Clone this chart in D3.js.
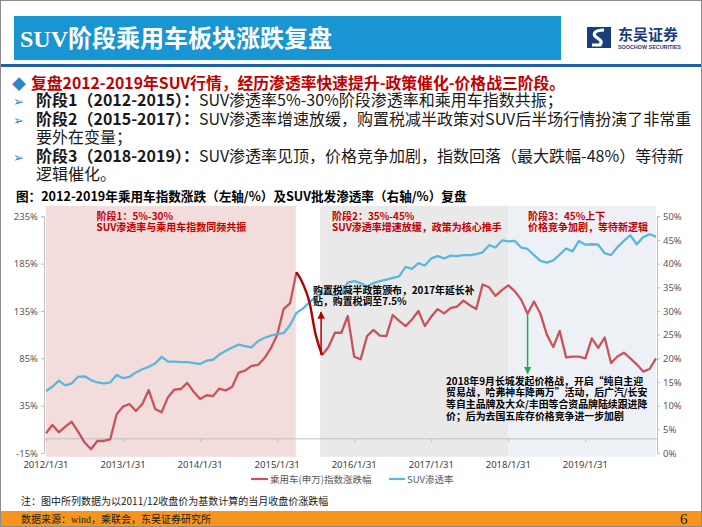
<!DOCTYPE html>
<html lang="zh">
<head>
  <meta charset="utf-8">
  <title>SUV阶段乘用车板块涨跌复盘</title>
  <script src="https://cdn.jsdelivr.net/npm/d3@7"></script>
  <style>
    html, body { margin: 0; padding: 0; background: #fff; }
    svg { display: block; }
    text { font-family: "Noto Sans CJK SC", "Noto Sans", sans-serif; }
  </style>
</head>
<body>
<script>
  // 乘用车(申万)指数涨跌幅, monthly 2012/1 - 2019/12 (left axis, %)
  var idxChange = [
    5.8, 14.6, 6.8, 12.8, 18, 7.5, -3.7, -11, -2.3, -2.3, -0.5, 26,
    34, 36.7, 29.4, 36.7, 51.5, 31.5, 28, 44, 52, 52.6, 59, 49.7,
    42, 46, 45, 53, 51, 55, 70, 72, 77, 78, 85, 95.5,
    109.6, 137, 143, 176, 164, 145, 110, 88.5, 97, 112, 112, 129.7,
    86.7, 84, 108.5, 115, 109, 108.5, 130.7, 124.5, 119, 126, 135, 119,
    129, 137, 132.5, 138, 139.5, 146, 141, 137, 163, 160, 151, 157,
    162, 156, 147, 132, 145, 132, 110, 97, 114, 86, 86.7, 86.7,
    85, 106, 96, 107, 80, 87, 91, 85, 78.7, 71, 73.7, 85
  ];
  // SUV渗透率 (right axis, %)
  var suvRate = [
    13.1, 14.0, 15.3, 14.3, 14.7, 16.1, 16.2, 15.4, 14.9, 14.7, 14.9, 16.5,
    15.8, 16.1, 17.0, 17.7, 18.2, 18.9, 20.3, 19.3, 19.3, 19.2, 19.2, 19.0,
    18.8, 19.5, 19.7, 20.8, 21.6, 22.3, 22.9, 22.6, 22.3, 23.6, 24.3, 24.8,
    25.1, 25.3, 27.0, 29.6, 30.5, 31.8, 33.0, 33.7, 33.7, 33.3, 33.8, 36.0,
    36.3, 35.9, 35.1, 35.9, 36.3, 36.6, 37.0, 37.3, 39.3, 38.9, 40.1, 39.6,
    41.1, 41.6, 41.1, 41.7, 41.6, 41.8, 41.8, 42.0, 42.4, 43.9, 43.4, 44.9,
    44.7, 44.8, 43.4, 43.1, 41.8, 40.6, 40.2, 40.7, 41.9, 43.2, 42.6, 44.8,
    44.0, 44.1, 44.0, 42.2, 41.8, 43.5, 44.8, 46.0, 44.1, 45.6, 46.2, 45.7
  ];
  var xTickLabels = ["2012/1/31", "2013/1/31", "2014/1/31", "2015/1/31",
                     "2016/1/31", "2017/1/31", "2018/1/31", "2019/1/31"];
  var leftTicks = [-15, 35, 85, 135, 185, 235];
  var rightTicks = [0, 5, 10, 15, 20, 25, 30, 35, 40, 45, 50];
  // stage bands, in month index (0 = 2012/1)
  var stageStart = [0, 42.7, 72];
  var stageEnd = [38.9, 72, 95];
  var stageTitle = ["阶段1：5%-30%", "阶段2：35%-45%", "阶段3：45%上下"];
  var stageNote = ["SUV渗透率与乘用车指数同频共振", "SUV渗透率增速放缓，政策为核心推手", "价格竞争加剧，等待新逻辑"];
  var crashFrom = 39, crashTo = 43;   // highlighted fall after 2015 peak

  var W = 702, H = 527;
  var svg = d3.select("body").append("svg").attr("width", W).attr("height", H);

  // ---- slide frame, header ----
  svg.append("rect").attr("x", 0.5).attr("y", 0.5).attr("width", W - 1).attr("height", H - 1)
    .attr("fill", "#fff").attr("stroke", "#8c8c8c");
  svg.append("rect").attr("x", 14).attr("y", 16).attr("width", 547).attr("height", 44).attr("fill", "#1895d3");
  svg.append("text").attr("x", 20).attr("y", 47).attr("fill", "#fff")
    .style("font-family", "'Liberation Serif', 'Noto Sans CJK SC'")
    .style("font-size", "24px").style("font-weight", "bold")
    .text("SUV阶段乘用车板块涨跌复盘");
  svg.append("rect").attr("x", 1).attr("y", 64).attr("width", W - 2).attr("height", 3).attr("fill", "#1f5fa6");

  // logo
  var logo = svg.append("g").attr("transform", "translate(587,27)");
  logo.append("rect").attr("width", 24).attr("height", 21).attr("fill", "#1a3d7c");
  logo.append("path").attr("d", "M17,3 C8,3 5,7 9,10 C13,13 16,14 13,18 L5,18")
    .attr("fill", "none").attr("stroke", "#fff").attr("stroke-width", 3.2);
  logo.append("text").attr("x", 31).attr("y", 13).attr("fill", "#1a3d7c")
    .style("font-size", "15px").style("font-weight", "bold").text("东吴证券");
  logo.append("text").attr("x", 31).attr("y", 22).attr("fill", "#1a3d7c")
    .style("font-size", "5.4px").style("font-weight", "bold").style("font-family", "'Liberation Sans'")
    .text("SOOCHOW SECURITIES");

  // ---- bullet text ----
  var tb = svg.append("g").style("font-size", "16px");
  tb.append("text").attr("x", 12).attr("y", 89).attr("fill", "#2e86c8").style("font-size", "14px").text("◆");
  tb.append("text").attr("x", 31).attr("y", 89).attr("fill", "#c00000").style("font-weight", "bold")
    .style("font-size", "15.8px")
    .text("复盘2012-2019年SUV行情，经历渗透率快速提升-政策催化-价格战三阶段。");
  var lines = [
    {y: 106, bullet: true, b: "阶段1（2012-2015）：", t: "SUV渗透率5%-30%阶段渗透率和乘用车指数共振；"},
    {y: 124.5, bullet: true, b: "阶段2（2015-2017）：", t: "SUV渗透率增速放缓，购置税减半政策对SUV后半场行情扮演了非常重"},
    {y: 143, bullet: false, b: "", t: "要外在变量；"},
    {y: 161.5, bullet: true, b: "阶段3（2018-2019）：", t: "SUV渗透率见顶，价格竞争加剧，指数回落（最大跌幅-48%）等待新"},
    {y: 180, bullet: false, b: "", t: "逻辑催化。"}
  ];
  lines.forEach(function(l) {
    if (l.bullet) {
      tb.append("text").attr("x", 13).attr("y", l.y).attr("fill", "#2e86c8")
        .style("font-size", "13px").text("➢");
    }
    var t = tb.append("text").attr("x", 36).attr("y", l.y).attr("fill", "#1a1a1a");
    if (l.b) t.append("tspan").style("font-weight", "bold").text(l.b);
    t.append("tspan").text(l.t);
  });

  // chart title
  svg.append("text").attr("x", 16).attr("y", 201).attr("fill", "#000")
    .style("font-size", "12.6px").style("font-weight", "bold")
    .text("图：2012-2019年乘用车指数涨跌（左轴/%）及SUV批发渗透率（右轴/%）复盘");

  // ---- chart ----
  var x = d3.scaleLinear().domain([0, idxChange.length - 1]).range([46, 656]);
  var yL = d3.scaleLinear().domain([-15, 235]).range([453, 216.3]);
  var yR = d3.scaleLinear().domain([0, 50]).range([453, 216.3]);

  var bandFill = ["#f2dcdc", "#e9e9e9", "#edf1f6"];
  svg.append("g").selectAll("rect").data(stageStart).join("rect")
    .attr("x", function(d) { return x(d); })
    .attr("width", function(d, i) { return x(stageEnd[i]) - x(d); })
    .attr("y", yL(246)).attr("height", yL(-19) - yL(246))
    .attr("fill", function(d, i) { return bandFill[i]; });

  // axes
  var axisColor = "#bfbfbf", tickColor = "#595959";
  var gL = svg.append("g").attr("transform", "translate(44,0)")
    .call(d3.axisLeft(yL).tickValues(leftTicks).tickSize(3).tickFormat(function(d) { return d + "%"; }));
  var gR = svg.append("g").attr("transform", "translate(657,0)")
    .call(d3.axisRight(yR).tickValues(rightTicks).tickSize(3).tickFormat(function(d) { return d + "%"; }));
  var gX = svg.append("g").attr("transform", "translate(0," + yL(0) + ")")
    .call(d3.axisBottom(x).tickValues(d3.range(0, 96, 12)).tickSize(3).tickFormat(function(d, i) { return ""; }));
  [gL, gR, gX].forEach(function(g) {
    g.select(".domain").attr("stroke", axisColor);
    g.selectAll(".tick line").attr("stroke", axisColor);
    g.selectAll("text").attr("fill", tickColor).style("font-size", "9.5px")
      .style("font-family", "'Noto Sans', sans-serif");
  });
  gX.select(".domain").attr("d", "M44,0H657");
  // x labels sit under the plot, not at the zero line
  svg.append("g").selectAll("text").data(xTickLabels).join("text")
    .attr("x", function(d, i) { return x(i * 12); }).attr("y", 468)
    .attr("text-anchor", "middle").attr("fill", "#404040")
    .style("font-size", "9.5px").style("font-family", "'Noto Sans', sans-serif")
    .text(function(d) { return d; });

  // lines
  var redLine = d3.line()
    .defined(function(d, i) { return i <= crashFrom || i >= crashTo; })
    .x(function(d, i) { return x(i); }).y(function(d) { return yL(d); });
  svg.append("path").datum(idxChange).attr("d", redLine)
    .attr("fill", "none").attr("stroke", "#c9535b").attr("stroke-width", 2.3).attr("stroke-linejoin", "round");

  var blueLine = d3.line().x(function(d, i) { return x(i); }).y(function(d) { return yR(d); });
  svg.append("path").datum(suvRate).attr("d", blueLine)
    .attr("fill", "none").attr("stroke", "#5bb7dc").attr("stroke-width", 2.3).attr("stroke-linejoin", "round");

  var crash = d3.range(crashFrom, crashTo + 1);
  svg.append("path").datum(crash)
    .attr("d", d3.line().curve(d3.curveMonotoneX)
      .x(function(i) { return x(i); }).y(function(i) { return yL(idxChange[i]); }))
    .attr("fill", "none").attr("stroke", "#b00000").attr("stroke-width", 2.4);

  // arrows
  var defs = svg.append("defs");
  [["arrRed", "#b00000"], ["arrGreen", "#22a957"]].forEach(function(a) {
    defs.append("marker").attr("id", a[0]).attr("viewBox", "0 0 10 10").attr("refX", 9).attr("refY", 5)
      .attr("markerWidth", 5).attr("markerHeight", 5).attr("orient", "auto")
      .append("path").attr("d", "M0,0L10,5L0,10z").attr("fill", a[1]);
  });
  svg.append("line").attr("x1", x(crashTo) - 1).attr("x2", x(crashTo) - 1)
    .attr("y1", yL(idxChange[crashTo])).attr("y2", yL(134))
    .attr("stroke", "#b00000").attr("stroke-width", 1.5).attr("marker-end", "url(#arrRed)");
  svg.append("line").attr("x1", x(75)).attr("x2", x(75))
    .attr("y1", yL(idxChange[75])).attr("y2", yL(69))
    .attr("stroke", "#22a957").attr("stroke-width", 1.5).attr("marker-end", "url(#arrGreen)");

  // stage labels
  var stageX = [96.5, 332, 528];
  stageTitle.forEach(function(s, i) {
    var t = svg.append("text").attr("x", stageX[i]).attr("y", 219.5).attr("fill", "#c00000")
      .style("font-size", "10px").style("font-weight", "bold");
    t.append("tspan").text(s);
    t.append("tspan").attr("x", stageX[i]).attr("dy", 11.8).text(stageNote[i]);
  });

  // annotations
  function note(x0, y0, rows) {
    var t = svg.append("text").attr("x", x0).attr("y", y0).attr("fill", "#000")
      .style("font-size", "9.9px").style("font-weight", "bold");
    rows.forEach(function(r, i) {
      t.append("tspan").attr("x", x0).attr("dy", i ? 11.7 : 0).text(r);
    });
  }
  note(313, 293.5, ["购置税减半政策颁布，2017年延长补", "贴，购置税调至7.5%"]);
  note(446, 384.5, ["2018年9月长城发起价格战，开启“纯自主迎",
                    "贸易战，哈弗神车降两万”活动，后广汽/长安",
                    "等自主品牌及大众/丰田等合资品牌陆续跟进降",
                    "价；后为去国五库存价格竞争进一步加剧"]);

  // legend
  var lg = svg.append("g").style("font-size", "9.5px");
  lg.append("line").attr("x1", 251).attr("x2", 268).attr("y1", 479).attr("y2", 479)
    .attr("stroke", "#c9535b").attr("stroke-width", 2.2);
  lg.append("text").attr("x", 270).attr("y", 482.5).attr("fill", "#595959").text("乘用车(申万)指数涨跌幅");
  lg.append("line").attr("x1", 389).attr("x2", 405).attr("y1", 479).attr("y2", 479)
    .attr("stroke", "#5bb7dc").attr("stroke-width", 2.2);
  lg.append("text").attr("x", 407).attr("y", 482.5).attr("fill", "#595959").text("SUV渗透率");

  // footnotes
  svg.append("text").attr("x", 21).attr("y", 505).attr("fill", "#1a1a1a").style("font-size", "10px")
    .text("注：图中所列数据为以2011/12收盘价为基数计算的当月收盘价涨跌幅");
  svg.append("rect").attr("x", 1).attr("y", 511).attr("width", W - 2).attr("height", 15).attr("fill", "#f7941d");
  svg.append("text").attr("x", 21).attr("y", 522.5).attr("fill", "#1a1a1a").style("font-size", "10px")
    .style("font-family", "'Liberation Serif', 'Noto Sans CJK SC'")
    .text("数据来源：wind，乘联会，东吴证券研究所");
  svg.append("text").attr("x", 680).attr("y", 524).attr("fill", "#1a1a1a").style("font-size", "15px")
    .style("font-family", "'Liberation Serif'").text("6");
</script>
</body>
</html>
